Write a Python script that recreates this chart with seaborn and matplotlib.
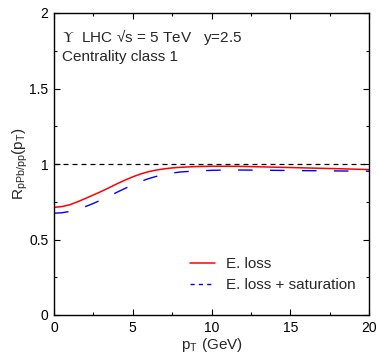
import numpy as np
import pandas as pd
import seaborn as sns
import matplotlib
matplotlib.use("Agg")
import matplotlib.pyplot as plt
from matplotlib.ticker import MultipleLocator

pt_eloss = [0, 0.5, 1, 1.5, 2, 2.5, 3, 3.5, 4, 4.5, 5, 5.5, 6, 6.5, 7, 7.5, 8, 9, 10, 11, 12, 14, 16, 18, 20]
r_eloss = [0.713, 0.718, 0.730, 0.750, 0.772, 0.795, 0.818, 0.843, 0.869, 0.893, 0.915, 0.934, 0.949,
           0.960, 0.968, 0.974, 0.978, 0.983, 0.985, 0.985, 0.984, 0.979, 0.974, 0.969, 0.963]

pt_sat = [0, 0.5, 1, 1.5, 2, 2.5, 3, 3.5, 4, 4.5, 5, 5.5, 6, 6.5, 7, 7.5, 8, 9, 10, 11, 12, 14, 16, 18, 20]
r_sat = [0.674, 0.677, 0.686, 0.700, 0.718, 0.739, 0.762, 0.787, 0.813, 0.838, 0.862, 0.884, 0.903,
         0.918, 0.930, 0.940, 0.947, 0.954, 0.958, 0.960, 0.960, 0.958, 0.956, 0.954, 0.952]

labels = ["E. loss", "E. loss + saturation"]
x_ticks = [0, 5, 10, 15, 20]
y_ticks = [0, 0.5, 1, 1.5, 2]
y_ticklabels = ["0", "0.5", "1", "1.5", "2"]

sns.set_theme(style="ticks")
plt.rcParams['font.family'] = ['Liberation Sans', 'DejaVu Sans']
plt.rcParams['mathtext.fontset'] = 'stix'

fig = plt.figure(figsize=(3.78, 3.54), dpi=100)
ax = fig.add_axes([54/378, 1-315/354, 315/378, 302/354])

df1 = pd.DataFrame({"pt": pt_eloss, "r": r_eloss})
df2 = pd.DataFrame({"pt": pt_sat, "r": r_sat})
sns.lineplot(data=df1, x="pt", y="r", ax=ax, color="#ff0000", lw=1.1, label=labels[0])
sns.lineplot(data=df2, x="pt", y="r", ax=ax, color="#0000ff", lw=1.0, label=labels[1])
ax.lines[-1].set_dashes((10.5, 12.5))
ax.axhline(1.0, color="black", lw=0.9, dashes=(4, 3.2))

ax.set_xlim(0, 20)
ax.set_ylim(0, 2)
ax.xaxis.set_minor_locator(MultipleLocator(2.5))
ax.yaxis.set_minor_locator(MultipleLocator(0.25))
ax.set_xticks(x_ticks)
ax.set_xticklabels([str(v) for v in x_ticks])
ax.set_yticks(y_ticks)
ax.set_yticklabels(y_ticklabels)
ax.tick_params(which="both", direction="in", top=True, right=True, labelsize=10, width=0.8, colors="black")
ax.tick_params(which="major", length=4, pad=4)
ax.tick_params(which="minor", length=2)
for s in ax.spines.values():
    s.set_linewidth(1.0)
    s.set_color("black")

ax.set_xlabel(r"p$_\mathregular{T}$ (GeV)", fontsize=11, labelpad=1)
ax.set_ylabel(r"R$_\mathregular{pPb/pp}$(p$_\mathregular{T}$)", fontsize=11)
ax.yaxis.set_label_coords(-0.075, 0.5)

ax.text(0.025, 0.92, r"$\Upsilon$  LHC √s = 5 TeV   y=2.5", transform=ax.transAxes, fontsize=11, va="center")
ax.text(0.025, 0.855, "Centrality class 1", transform=ax.transAxes, fontsize=11, va="center")

leg = ax.legend(loc="lower right", frameon=False, fontsize=11, handlelength=1.6,
                bbox_to_anchor=(1.0, 0.03), labelspacing=0.45, handletextpad=0.7)
leg.get_lines()[1].set_dashes((3, 3))

fig.savefig("out.png", dpi=100)
